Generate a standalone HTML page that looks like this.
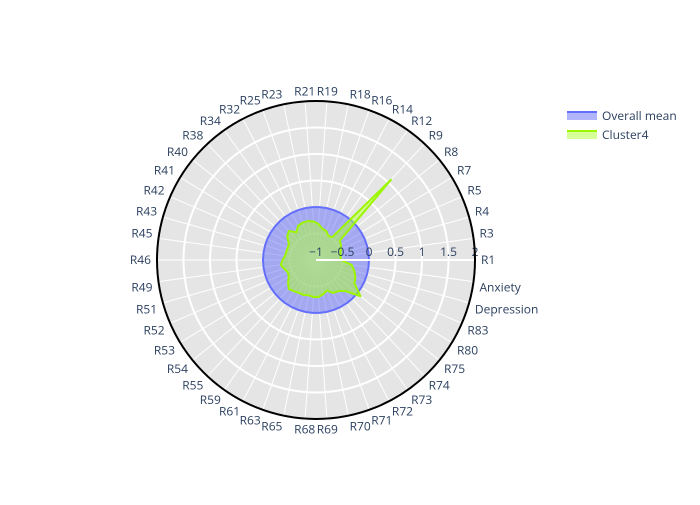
<!DOCTYPE html>
<html><head><meta charset="utf-8"><style>
body{margin:0;background:#fff;}
svg text{font-family:"Open Sans","Liberation Sans",sans-serif;font-size:12px;fill:#2a3f5f;}
</style></head><body>
<svg id="chart" width="700" height="500" xmlns="http://www.w3.org/2000/svg"></svg>
<script>
const categories=["R1","R3","R4","R5","R7","R8","R9","R12","R14","R16","R18","R19","R21","R23","R25","R32","R34","R38","R40","R41","R42","R43","R45","R46","R49","R51","R52","R53","R54","R55","R59","R61","R63","R65","R68","R69","R70","R71","R72","R73","R74","R75","R80","R83","Depression","Anxiety"];
const overallMean=categories.map(()=>0);
const cluster4=[-0.53,-0.53,-0.52,-0.49,-0.45,-0.42,1.07,-0.47,-0.49,-0.42,-0.4,-0.32,-0.27,-0.25,-0.25,-0.27,-0.36,-0.25,-0.3,-0.4,-0.42,-0.42,-0.41,-0.37,-0.33,-0.38,-0.42,-0.4,-0.32,-0.25,-0.28,-0.3,-0.3,-0.32,-0.3,-0.3,-0.34,-0.39,-0.3,-0.28,-0.2,0.08,-0.15,-0.19,-0.25,-0.32];
const radialTicks=[-1,-0.5,0,0.5,1,1.5,2];
const radialTickLabels=["−1","−0.5","0","0.5","1","1.5","2"];
const rMin=-1,rMax=2;

const cx=316,cy=260,R=159;
const svg=document.getElementById('chart');
const NS='http://www.w3.org/2000/svg';
function mk(tag,attrs,parent){const e=document.createElementNS(NS,tag);for(const k in attrs)e.setAttribute(k,attrs[k]);(parent||svg).appendChild(e);return e;}
function rScale(v){return (v-rMin)/(rMax-rMin)*R;}
function angle(i){return i*2*Math.PI/categories.length;}
function pt(i,v){const a=angle(i),r=rScale(v);return [cx+r*Math.cos(a),cy-r*Math.sin(a)];}

const bg=mk('circle',{cx:cx,cy:cy,r:R,fill:'#e5e5e5'});


categories.forEach((c,i)=>{const [x,y]=pt(i,rMax);const l=mk('line',{x1:cx,y1:cy,x2:x,y2:y,stroke:'#fff','stroke-width':1});

});
radialTicks.forEach((t,i)=>{if(t<=rMin||t>=rMax)return;const g=mk('circle',{cx:cx,cy:cy,r:rScale(t),fill:'none',stroke:'#fff','stroke-width':2});

});

function series(vals,stroke,fill,name){const p=vals.map((v,i)=>pt(i,v).join(',')).join(' ');
const e=mk('polygon',{points:p,fill:fill,stroke:stroke,'stroke-width':2,'stroke-linejoin':'round'});

}
series(overallMean,'#636efa','rgba(99,110,250,0.5)','overall-mean-area');
series(cluster4,'#9cf600','rgba(173,255,47,0.5)','cluster4-area');

const ax=mk('line',{x1:cx,y1:cy,x2:cx+R,y2:cy,stroke:'#fff','stroke-width':2});


radialTicks.forEach((t,i)=>{const tx=mk('text',{x:cx+rScale(t),y:cy-4,'text-anchor':'middle'});tx.textContent=radialTickLabels[i];

});

const outer=mk('circle',{cx:cx,cy:cy,r:R,fill:'none',stroke:'#000','stroke-width':2});



categories.forEach((c,i)=>{const a=angle(i);const rr=R+6;const x=cx+rr*Math.cos(a),y=cy-rr*Math.sin(a);
const co=Math.cos(a),si=Math.sin(a);
const anchor=co>0.1?'start':(co<-0.1?'end':'middle');
const dy=si>0.1?0:(si<-0.1?9:4);
const tx=mk('text',{x:x,y:y+dy+(Math.abs(co)<=0.1?0:0),'text-anchor':anchor});tx.textContent=c;

});

const leg=mk('g',{});


[['Overall mean','#636efa','rgba(99,110,250,0.5)',116],['Cluster4','#9cf600','rgba(173,255,47,0.5)',135]].forEach(([n,s,f,y])=>{
const g=mk('g',{},leg);


mk('rect',{x:567,y:y-4,width:30,height:8,fill:f},g);
mk('line',{x1:567,y1:y-4,x2:597,y2:y-4,stroke:s,'stroke-width':2},g);
const t=mk('text',{x:602,y:y+4},g);t.textContent=n;});
</script>
</body></html>
